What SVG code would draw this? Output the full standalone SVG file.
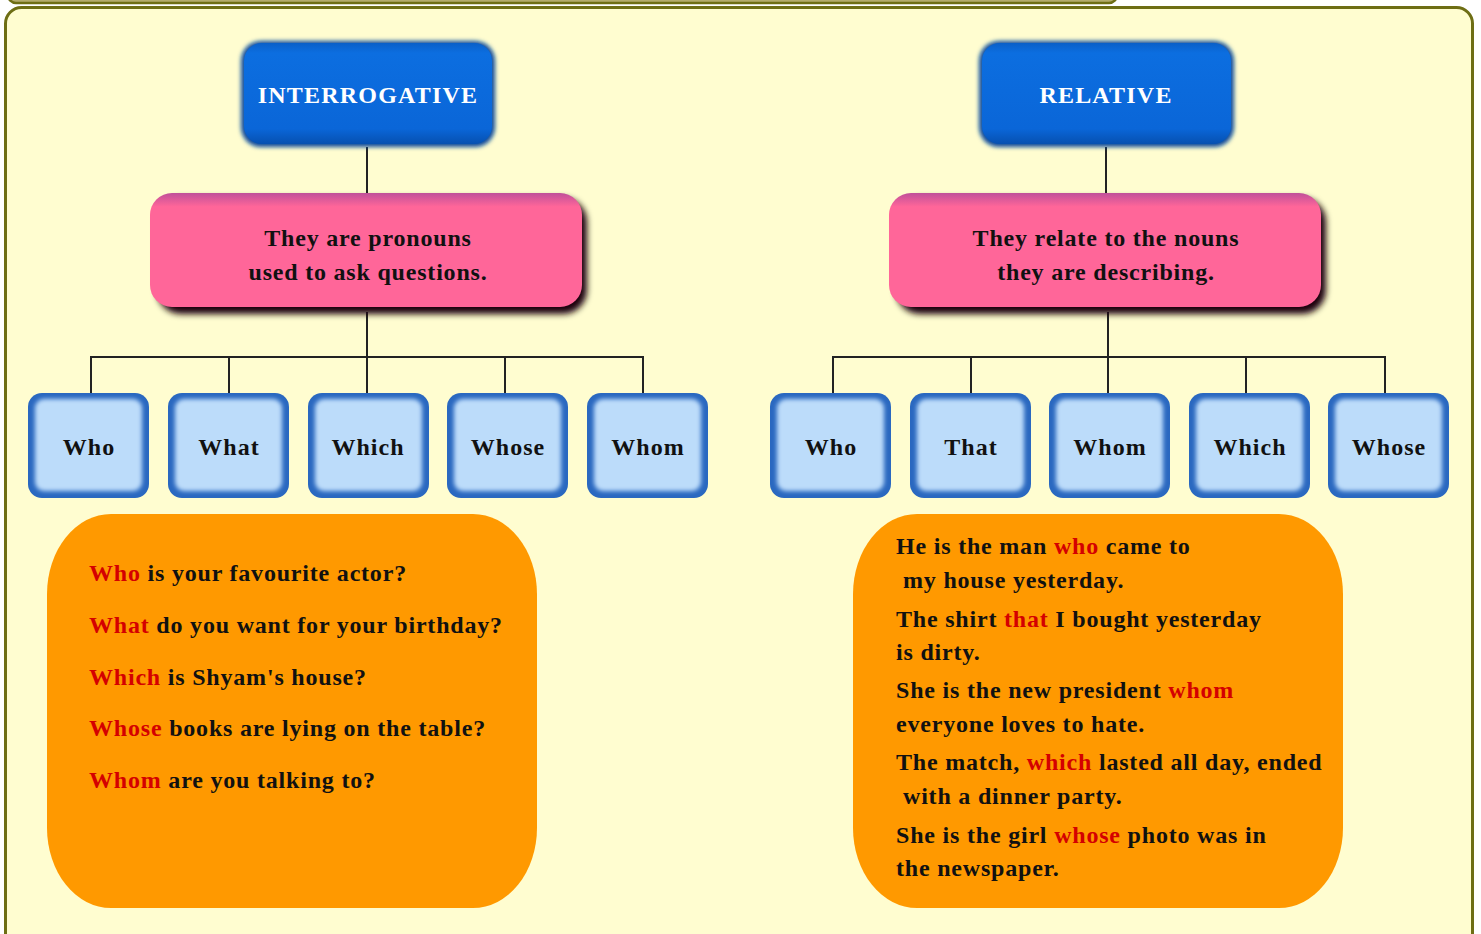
<svg xmlns="http://www.w3.org/2000/svg" width="1481" height="934" viewBox="0 0 1481 934">
  <defs>
    <linearGradient id="gBlue" x1="0" y1="0" x2="0" y2="1">
      <stop offset="0" stop-color="#0a5fc8"/>
      <stop offset="0.1" stop-color="#0c6ee0"/>
      <stop offset="0.85" stop-color="#0a66d8"/>
      <stop offset="1" stop-color="#0650b0"/>
    </linearGradient>
    <linearGradient id="gPink" x1="0" y1="0" x2="0" y2="1">
      <stop offset="0" stop-color="#c0509a"/>
      <stop offset="0.12" stop-color="#ff6699"/>
      <stop offset="1" stop-color="#ff6699"/>
    </linearGradient>
    <filter id="blur2" x="-10%" y="-10%" width="120%" height="120%">
      <feGaussianBlur stdDeviation="2"/>
    </filter>
    <filter id="blur3" x="-10%" y="-10%" width="120%" height="120%">
      <feGaussianBlur stdDeviation="3"/>
    </filter>
    <style>
      .t { font-family: "Liberation Serif", "Times New Roman", serif; font-weight: bold; }
      .head { fill: #ffffff; font-size: 24px; letter-spacing: 1.2px; text-anchor: middle; }
      .desc { fill: #111111; font-size: 24px; letter-spacing: 0.8px; text-anchor: middle; }
      .lab { fill: #111111; font-size: 24px; letter-spacing: 1px; text-anchor: middle; }
      .ex { fill: #111111; font-size: 24px; letter-spacing: 0.8px; }
      .r { fill: #d40000; }
      .conn { stroke: #222222; stroke-width: 2; fill: none; }
      .sbOut { fill: #2a68c0; }
      .sbIn { fill: #bcdcfa; }
      .orange { fill: #ff9900; }
    </style>
  </defs>

  <!-- background -->
  <rect x="0" y="0" width="1481" height="934" fill="#ffffff"/>
  <rect x="8" y="-30" width="1109" height="33" rx="8" fill="#b4ac6c" stroke="#6e6e14" stroke-width="2.5"/>
  <rect x="5.5" y="7.5" width="1467" height="960" rx="16" fill="#fffdd0" stroke="#6e6e14" stroke-width="3"/>

  <!-- connectors -->
  <g id="connectors" class="conn">
    <line x1="367" y1="147" x2="367" y2="195"/>
    <line x1="367" y1="312" x2="367" y2="357"/>
    <polyline points="91,395 91,357 643,357 643,395"/>
    <line x1="229" y1="357" x2="229" y2="395"/>
    <line x1="367" y1="357" x2="367" y2="395"/>
    <line x1="505" y1="357" x2="505" y2="395"/>
    <line x1="1106" y1="147" x2="1106" y2="195"/>
    <line x1="1108" y1="312" x2="1108" y2="357"/>
    <polyline points="833,395 833,357 1385,357 1385,395"/>
    <line x1="971" y1="357" x2="971" y2="395"/>
    <line x1="1108" y1="357" x2="1108" y2="395"/>
    <line x1="1246" y1="357" x2="1246" y2="395"/>
  </g>

  <!-- headers -->
  <g id="interrogative">
    <rect x="241" y="41" width="254" height="106" rx="20" fill="#0a4c9c" filter="url(#blur2)"/>
    <rect x="244" y="43" width="248" height="101" rx="18" fill="url(#gBlue)"/>
    <text class="t head" x="368" y="103">INTERROGATIVE</text>
  </g>
  <g id="relative">
    <rect x="979" y="41" width="255" height="106" rx="20" fill="#0a4c9c" filter="url(#blur2)"/>
    <rect x="982" y="43" width="249" height="101" rx="18" fill="url(#gBlue)"/>
    <text class="t head" x="1106" y="103">RELATIVE</text>
  </g>

  <!-- descriptions -->
  <g id="desc-interrogative">
    <rect x="157" y="198" width="430" height="116" rx="24" fill="#1a0010" filter="url(#blur3)"/>
    <rect x="150" y="193" width="432" height="114" rx="22" fill="url(#gPink)"/>
    <text class="t desc" x="368" y="246">They are pronouns</text>
    <text class="t desc" x="368" y="280">used to ask questions.</text>
  </g>
  <g id="desc-relative">
    <rect x="896" y="198" width="430" height="116" rx="24" fill="#1a0010" filter="url(#blur3)"/>
    <rect x="889" y="193" width="432" height="114" rx="22" fill="url(#gPink)"/>
    <text class="t desc" x="1106" y="246">They relate to the nouns</text>
    <text class="t desc" x="1106" y="280">they are describing.</text>
  </g>

  <!-- interrogative pronoun boxes -->
  <g id="i-who">
    <rect class="sbOut" x="28" y="393" width="121" height="105" rx="14"/>
    <rect class="sbIn" x="35" y="399" width="107" height="92" rx="9" filter="url(#blur2)"/>
    <text class="t lab" x="89" y="455">Who</text>
  </g>
  <g id="i-what">
    <rect class="sbOut" x="168" y="393" width="121" height="105" rx="14"/>
    <rect class="sbIn" x="175" y="399" width="107" height="92" rx="9" filter="url(#blur2)"/>
    <text class="t lab" x="229" y="455">What</text>
  </g>
  <g id="i-which">
    <rect class="sbOut" x="308" y="393" width="121" height="105" rx="14"/>
    <rect class="sbIn" x="315" y="399" width="107" height="92" rx="9" filter="url(#blur2)"/>
    <text class="t lab" x="368" y="455">Which</text>
  </g>
  <g id="i-whose">
    <rect class="sbOut" x="447" y="393" width="121" height="105" rx="14"/>
    <rect class="sbIn" x="454" y="399" width="107" height="92" rx="9" filter="url(#blur2)"/>
    <text class="t lab" x="508" y="455">Whose</text>
  </g>
  <g id="i-whom">
    <rect class="sbOut" x="587" y="393" width="121" height="105" rx="14"/>
    <rect class="sbIn" x="594" y="399" width="107" height="92" rx="9" filter="url(#blur2)"/>
    <text class="t lab" x="648" y="455">Whom</text>
  </g>

  <!-- relative pronoun boxes -->
  <g id="r-who">
    <rect class="sbOut" x="770" y="393" width="121" height="105" rx="14"/>
    <rect class="sbIn" x="777" y="399" width="107" height="92" rx="9" filter="url(#blur2)"/>
    <text class="t lab" x="831" y="455">Who</text>
  </g>
  <g id="r-that">
    <rect class="sbOut" x="910" y="393" width="121" height="105" rx="14"/>
    <rect class="sbIn" x="917" y="399" width="107" height="92" rx="9" filter="url(#blur2)"/>
    <text class="t lab" x="971" y="455">That</text>
  </g>
  <g id="r-whom">
    <rect class="sbOut" x="1049" y="393" width="121" height="105" rx="14"/>
    <rect class="sbIn" x="1056" y="399" width="107" height="92" rx="9" filter="url(#blur2)"/>
    <text class="t lab" x="1110" y="455">Whom</text>
  </g>
  <g id="r-which">
    <rect class="sbOut" x="1189" y="393" width="121" height="105" rx="14"/>
    <rect class="sbIn" x="1196" y="399" width="107" height="92" rx="9" filter="url(#blur2)"/>
    <text class="t lab" x="1250" y="455">Which</text>
  </g>
  <g id="r-whose">
    <rect class="sbOut" x="1328" y="393" width="121" height="105" rx="14"/>
    <rect class="sbIn" x="1335" y="399" width="107" height="92" rx="9" filter="url(#blur2)"/>
    <text class="t lab" x="1389" y="455">Whose</text>
  </g>

  <!-- examples -->
  <g id="examples-interrogative">
    <rect class="orange" x="47" y="514" width="490" height="394" rx="64" ry="80"/>
    <text class="t ex" x="89" y="581"><tspan class="r">Who</tspan> is your favourite actor?</text>
    <text class="t ex" x="89" y="633"><tspan class="r">What</tspan> do you want for your birthday?</text>
    <text class="t ex" x="89" y="685"><tspan class="r">Which</tspan> is Shyam's house?</text>
    <text class="t ex" x="89" y="736"><tspan class="r">Whose</tspan> books are lying on the table?</text>
    <text class="t ex" x="89" y="788"><tspan class="r">Whom</tspan> are you talking to?</text>
  </g>
  <g id="examples-relative">
    <rect class="orange" x="853" y="514" width="490" height="394" rx="64" ry="80"/>
    <text class="t ex" x="896" y="554">He is the man <tspan class="r">who</tspan> came to</text>
    <text class="t ex" x="903" y="588">my house yesterday.</text>
    <text class="t ex" x="896" y="627">The shirt <tspan class="r">that</tspan> I bought yesterday</text>
    <text class="t ex" x="896" y="660">is dirty.</text>
    <text class="t ex" x="896" y="698">She is the new president <tspan class="r">whom</tspan></text>
    <text class="t ex" x="896" y="732">everyone loves to hate.</text>
    <text class="t ex" x="896" y="770">The match, <tspan class="r">which</tspan> lasted all day, ended</text>
    <text class="t ex" x="903" y="804">with a dinner party.</text>
    <text class="t ex" x="896" y="843">She is the girl <tspan class="r">whose</tspan> photo was in</text>
    <text class="t ex" x="896" y="876">the newspaper.</text>
  </g>
</svg>
